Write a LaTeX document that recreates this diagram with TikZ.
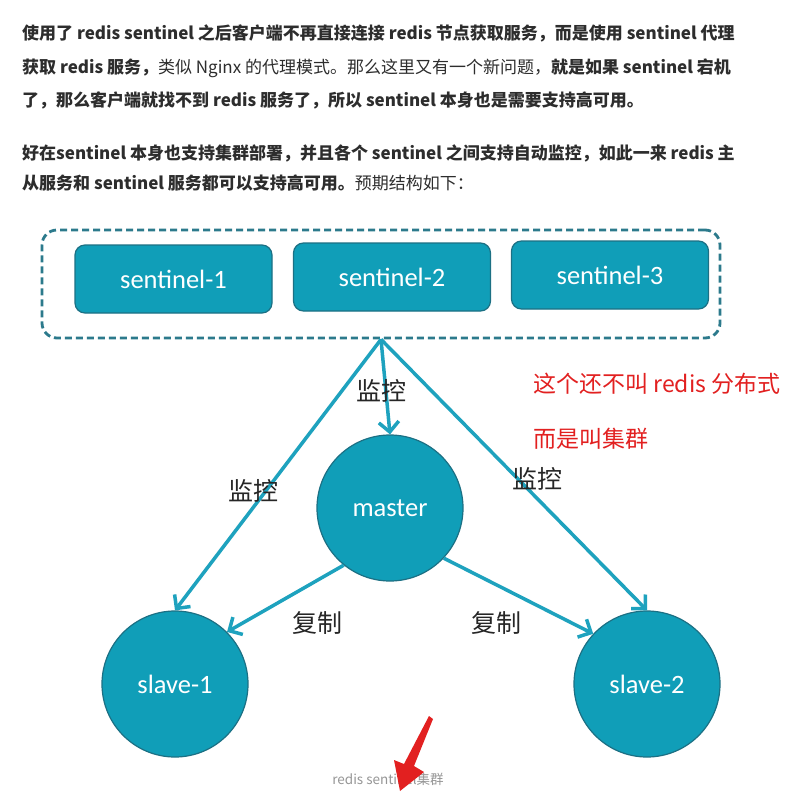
\documentclass[tikz,border=0pt]{standalone}
\usepackage{fontspec}
\setmainfont{Noto Sans CJK SC}
\newfontfamily\carl{Carlito}
\usetikzlibrary{arrows.meta}
\definecolor{nodefill}{RGB}{16,158,184}
\definecolor{nodeline}{RGB}{28,112,132}
\definecolor{arrowcol}{RGB}{30,162,190}
\definecolor{dashcol}{RGB}{44,122,140}
\definecolor{bodytext}{RGB}{45,45,45}
\definecolor{redtext}{RGB}{226,32,32}
\definecolor{captiongray}{RGB}{150,150,150}
\tikzset{
  bodyline/.style={anchor=base west, inner sep=0pt, text=bodytext, font=\fontsize{17}{20}\selectfont},
  sentbox/.style={rectangle, rounded corners=10pt, fill=nodefill, draw=nodeline, line width=1.2pt,
    minimum width=197pt, minimum height=68pt, text=white, font=\carl\fontsize{26.5}{30}\selectfont},
  redisnode/.style={circle, fill=nodefill, draw=nodeline, line width=1.2pt, minimum size=146pt,
    inner sep=0pt, text=white, font=\carl\fontsize{26.5}{30}\selectfont},
  grpbox/.style={rectangle, rounded corners=15pt, draw=dashcol, line width=2.8pt,
    dash pattern=on 7pt off 4pt, minimum width=678pt, minimum height=108pt},
  conn/.style={draw=arrowcol, line width=3.5pt, -{Straight Barb[length=10pt,width=20pt]}},
  edgelabel/.style={text=black!85, font=\fontsize{25}{28}\selectfont, inner sep=0pt},
  redlabel/.style={anchor=west, text=redtext, font=\fontsize{23}{26}\selectfont, inner sep=0pt},
}
\begin{document}
\begin{tikzpicture}[x=1pt,y=-1pt]
\useasboundingbox (0,0) rectangle (792,798);
\fill[white] (0,0) rectangle (792,798);

% body text
\node[bodyline] (l1) at (22,39) {\textbf{使用了 redis sentinel 之后客户端不再直接连接 redis 节点获取服务，而是使用 sentinel 代理}};
\node[bodyline] (l2) at (22,73) {\textbf{获取 redis 服务，}类似 Nginx 的代理模式。那么这里又有一个新问题，\textbf{就是如果 sentinel 宕机}};
\node[bodyline] (l3) at (22,106) {\textbf{了，那么客户端就找不到 redis 服务了，所以 sentinel 本身也是需要支持高可用。}};
\node[bodyline] (p1) at (22,159) {\textbf{好在sentinel 本身也支持集群部署，并且各个 sentinel 之间支持自动监控，如此一来 redis 主}};
\node[bodyline] (p2) at (22,189) {\textbf{从服务和 sentinel 服务都可以支持高可用。}预期结构如下：};

% sentinel group
\node[grpbox] (grp) at (381,284) {};
\node[sentbox] (s1) at (173.5,279) {sentinel-1};
\node[sentbox] (s2) at (392,277) {sentinel-2};
\node[sentbox] (s3) at (610,275) {sentinel-3};

% redis nodes
\node[redisnode] (master) at (390,508) {master};
\node[redisnode] (slave1) at (175,684) {slave-1};
\node[redisnode] (slave2) at (647,684) {slave-2};

% connectors
\coordinate (src) at (grp.south);
\draw[conn] (src) -- (master.north);
\draw[conn] (src) -- (slave1.north);
\draw[conn] (src) -- (slave2.north);
\draw[conn] (master.231) -- (slave1.45);
\draw[conn] (master.317) -- (slave2.137);

% labels
\node[edgelabel] (m1) at (381,391) {监控};
\node[edgelabel] (m2) at (253,491) {监控};
\node[edgelabel] (m3) at (537,479) {监控};
\node[edgelabel] (c1) at (317,623) {复制};
\node[edgelabel] (c2) at (496,623) {复制};

% red notes
\node[redlabel] (r1) at (533,384) {这个还不叫 redis 分布式};
\node[redlabel] (r2) at (533,439) {而是叫集群};

% caption
\node[text=captiongray, font=\fontsize{13.5}{16}\selectfont, inner sep=0pt] (cap) at (388,779) {redis sentinel集群};

% red hand-drawn arrow
\fill[redtext] (429,716) -- (433,719) -- (414,766) -- (424,772) -- (400,791) -- (394,760) -- (404,764) -- cycle;
\end{tikzpicture}
\end{document}
